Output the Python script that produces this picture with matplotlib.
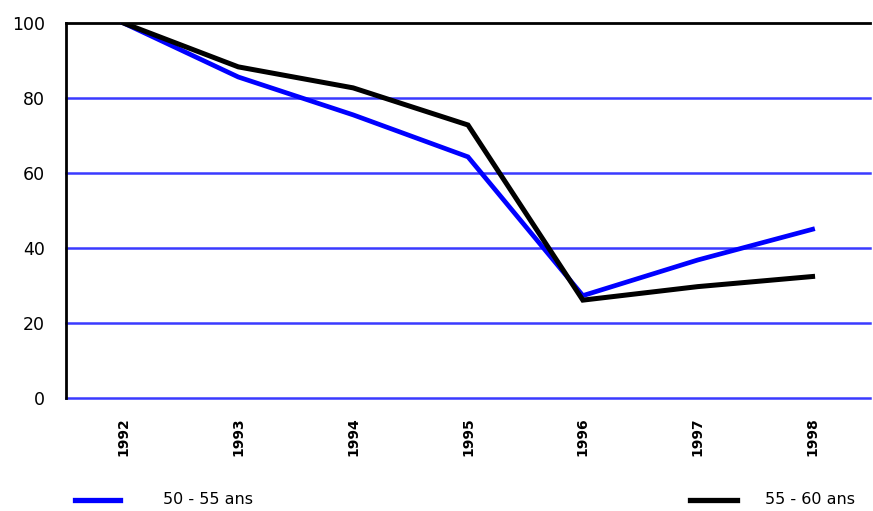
import matplotlib
matplotlib.use("Agg")
import matplotlib.pyplot as plt
from matplotlib.lines import Line2D

years = ["1992", "1993", "1994", "1995", "1996", "1997", "1998"]
s_50_55 = [100, 85.6, 75.5, 64.3, 27.3, 36.8, 45.0]
s_55_60 = [100, 88.3, 82.7, 72.8, 26.1, 29.7, 32.4]
yticks = [0, 20, 40, 60, 80, 100]

fig = plt.figure(figsize=(8.73, 5.11), dpi=100)
ax = fig.add_axes([66/873, 1-398/511, (870-66)/873, (398-23)/511])

x = list(range(len(years)))
for t in [0, 20, 40, 60, 80]:
    ax.axhline(t, color="#3a3aff", lw=1.8, zorder=1, clip_on=False)
ax.axhline(100, color="black", lw=2.0, zorder=1, clip_on=False)
ax.plot(x, s_50_55, color="#0000ff", lw=3.4, zorder=3, solid_joinstyle="miter")
ax.plot(x, s_55_60, color="black", lw=3.6, zorder=4, solid_joinstyle="miter")

ax.set_xlim(-0.5, len(years)-0.5)
ax.set_ylim(0, 100)
ax.set_yticks(yticks)
ax.set_yticklabels([str(v) for v in yticks], fontsize=12.5)
ax.set_xticks(x)
ax.set_xticklabels(years, rotation=90, fontsize=10, fontweight="bold")
ax.tick_params(axis="y", length=0, pad=15)
ax.tick_params(axis="x", length=0, pad=14)
for s in ["top", "right", "bottom"]:
    ax.spines[s].set_visible(False)
ax.spines["left"].set_linewidth(2.0)
ax.spines["left"].set_color("black")
ax.spines["left"].set_zorder(5)

fig.add_artist(Line2D([75/873, 120/873], [1-500/511]*2, color="#0000ff", lw=3.8))
fig.text(163/873, 1-500/511, "50 - 55 ans", fontsize=11.5, va="center", ha="left")
fig.add_artist(Line2D([690/873, 737/873], [1-500/511]*2, color="black", lw=3.8))
fig.text(765/873, 1-500/511, "55 - 60 ans", fontsize=11.5, va="center", ha="left")

fig.savefig("out.png", dpi=100)
